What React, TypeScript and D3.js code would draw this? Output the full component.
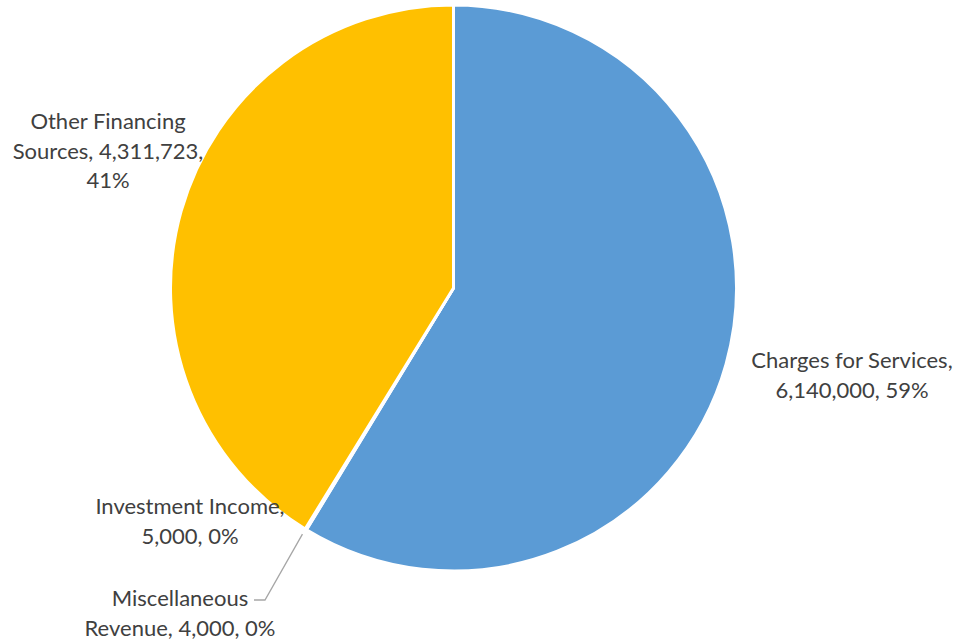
import React from "react";
import * as d3 from "d3";

const categories = ["Charges for Services", "Investment Income", "Miscellaneous Revenue", "Other Financing Sources"];
const values = [6140000, 5000, 4000, 4311723];
const colors = ["#5B9BD5", "#ED7D31", "#A5A5A5", "#FFC000"];

const W = 958, H = 643;
const cx = 453.5, cy = 288, R = 283;

// label layout: [x, y of first line, lines]
const labelLayout = [
  { x: 852, y: 362, lines: ["Charges for Services,", "{v}, {p}"] },
  { x: 190, y: 508, lines: ["Investment Income,", "{v}, {p}"] },
  { x: 180, y: 600, lines: ["Miscellaneous", "Revenue, {v}, {p}"] },
  { x: 108, y: 123, lines: ["Other Financing", "Sources, {v},", "{p}"] },
];

export default function App() {
  const total = d3.sum(values);
  const pie = d3.pie<number>().sort(null).value((d) => d)(values);
  const arc = d3.arc<d3.PieArcDatum<number>>().innerRadius(0).outerRadius(R);
  const fmt = d3.format(",");
  const pct = (v: number) => Math.round((v / total) * 100) + "%";
  const miscEnd = pie[2];
  const leaderAngle = (miscEnd.startAngle + miscEnd.endAngle) / 2;
  const lx = cx + R * Math.sin(leaderAngle) - 3;
  const ly = cy - R * Math.cos(leaderAngle) + 5;
  return (
    <svg width={W} height={H} style={{ position: "absolute", left: 0, top: 0 }}>
      <rect width={W} height={H} fill="#fff" />
      <g transform={`translate(${cx},${cy})`}>
        {pie.map((p, i) => (
          <path key={i} d={arc(p) || ""} fill={colors[i]} stroke="#fff" strokeWidth={3} strokeLinejoin="round" />
        ))}
      </g>
      <polyline
        points={`${254},${600} ${265},${600} ${lx},${ly}`}
        fill="none"
        stroke="#A6A6A6"
        strokeWidth={1.3}
      />
      {labelLayout.map((l, i) => (
        <text key={i} x={l.x} y={l.y} textAnchor="middle" dominantBaseline="middle" fontFamily="Lato, Carlito, sans-serif" fontSize={22} fill="#404040">
          {l.lines.map((s, j) => (
            <tspan key={j} x={l.x} y={l.y + j * 29.5}>
              {s.replace("{v}", fmt(values[i])).replace("{p}", pct(values[i]))}
            </tspan>
          ))}
        </text>
      ))}
    </svg>
  );
}
